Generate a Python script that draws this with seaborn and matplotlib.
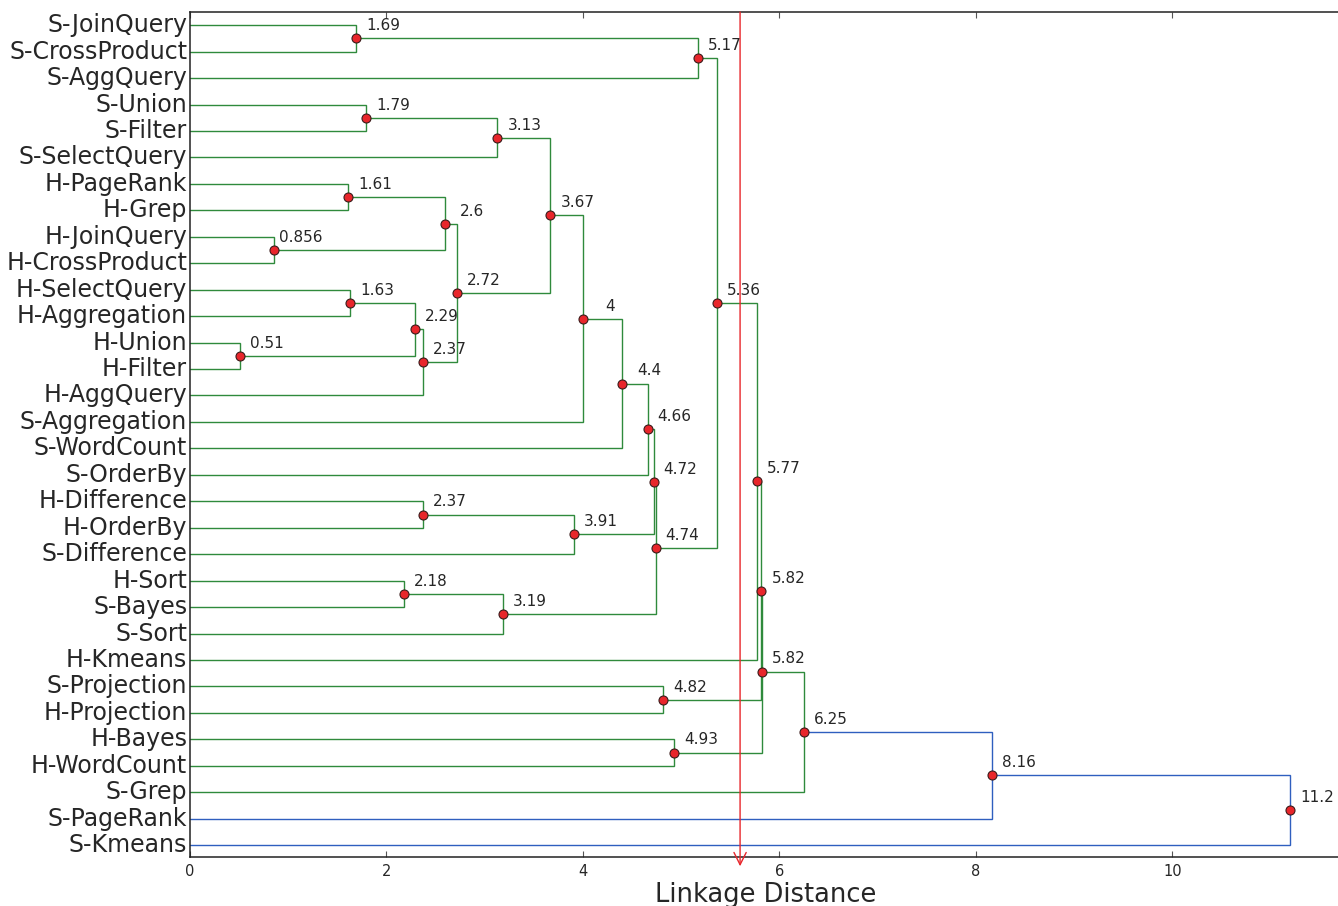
import matplotlib
matplotlib.use("Agg")
import matplotlib.pyplot as plt
import seaborn as sns
import pandas as pd

# ---- data -------------------------------------------------------------
leaf_labels = [
    "S-JoinQuery", "S-CrossProduct", "S-AggQuery", "S-Union", "S-Filter",
    "S-SelectQuery", "H-PageRank", "H-Grep", "H-JoinQuery", "H-CrossProduct",
    "H-SelectQuery", "H-Aggregation", "H-Union", "H-Filter", "H-AggQuery",
    "S-Aggregation", "S-WordCount", "S-OrderBy", "H-Difference", "H-OrderBy",
    "S-Difference", "H-Sort", "S-Bayes", "S-Sort", "H-Kmeans", "S-Projection",
    "H-Projection", "H-Bayes", "H-WordCount", "S-Grep", "S-PageRank", "S-Kmeans",
]
# children: index < 32 -> leaf (display order), index >= 32 -> merge (index-32)
merge_left = [0, 32, 3, 34, 6, 8, 36, 10, 12, 39, 41, 38, 35, 44, 45, 46,
              18, 48, 47, 21, 51, 50, 33, 54, 25, 55, 27, 57, 59, 60, 61]
merge_right = [1, 2, 4, 5, 7, 9, 37, 11, 13, 40, 14, 42, 43, 15, 16, 17,
               19, 20, 49, 22, 23, 52, 53, 24, 26, 56, 28, 58, 29, 30, 31]
merge_height = [1.69, 5.17, 1.79, 3.13, 1.61, 0.856, 2.6, 1.63, 0.51, 2.29,
                2.37, 2.72, 3.67, 4.0, 4.4, 4.66, 2.37, 3.91, 4.72, 2.18,
                3.19, 4.74, 5.36, 5.77, 4.82, 5.818, 4.93, 5.822, 6.25,
                8.16, 11.2]
cut_distance = 5.6
color_threshold = 7.84
# -----------------------------------------------------------------------

n_leaves = len(leaf_labels)
n_merge = len(merge_height)

GREEN = "#2f8a3c"
BLUE = "#2f5fbf"
RED = "#e8262b"
TXT = "#262626"

sns.set_style("white")
plt.rcParams["font.family"] = ["DejaVu Sans"]

fig = plt.figure(figsize=(13.38, 9.06), dpi=100)
ax = fig.add_axes([190 / 1338, 1 - 857 / 906, 1 - 190 / 1338 + 0.002, (857 - 12) / 906])

pos = {}   # node -> (x, y)
for i in range(n_leaves):
    pos[i] = (0.0, float(i))

nodes = []
for k in range(n_merge):
    a, b, h = merge_left[k], merge_right[k], merge_height[k]
    xa, ya = pos[a]
    xb, yb = pos[b]
    y = (ya + yb) / 2
    pos[n_leaves + k] = (h, y)
    col = GREEN if h < color_threshold else BLUE
    ax.plot([xa, h, h, xb], [ya, ya, yb, yb], color=col, lw=1.0, zorder=2,
            solid_joinstyle="miter")
    nodes.append({"dist": h, "y": y, "label": f"{h:.3g}"})

nodes_df = pd.DataFrame(nodes)
sns.scatterplot(data=nodes_df, x="dist", y="y", ax=ax, s=42, color=RED,
                edgecolor="#3a1a1a", linewidth=0.8, zorder=4, legend=False)
for _, r in nodes_df.iterrows():
    ax.annotate(r["label"], (r["dist"], r["y"]), xytext=(19.4, 5.8),
                textcoords="offset points", va="baseline", ha="center",
                fontsize=11, color=TXT, zorder=5)

ylo, yhi = n_leaves - 0.55, -0.5
ax.set_ylim(ylo, yhi)
ax.set_xlim(0, 1148 / 98)

# cut line with open arrow head
ax.annotate("", xy=(cut_distance, ylo + 0.35), xytext=(cut_distance, yhi),
            arrowprops=dict(arrowstyle="->", color=RED, lw=1.0,
                            shrinkA=0, shrinkB=0, mutation_scale=22),
            annotation_clip=False, zorder=3)

ax.set_yticks(range(n_leaves))
ax.set_yticklabels(leaf_labels, fontsize=17, color=TXT, va="center")
ax.tick_params(axis="y", length=0, pad=2)
ax.set_ylabel("")
ax.set_xticks([0, 2, 4, 6, 8, 10])
ax.tick_params(axis="x", direction="in", length=4, width=0.8, color="#555555",
               top=True, bottom=True, labelsize=10.5, labelcolor=TXT, pad=5)
ax.set_xlabel("Linkage Distance", fontsize=18.5, color=TXT, labelpad=2)

for side in ["left", "bottom", "top"]:
    ax.spines[side].set_visible(True)
    ax.spines[side].set_color("#222222")
    ax.spines[side].set_linewidth(1.1)
ax.spines["right"].set_visible(False)

fig.savefig("out.png", dpi=100)
